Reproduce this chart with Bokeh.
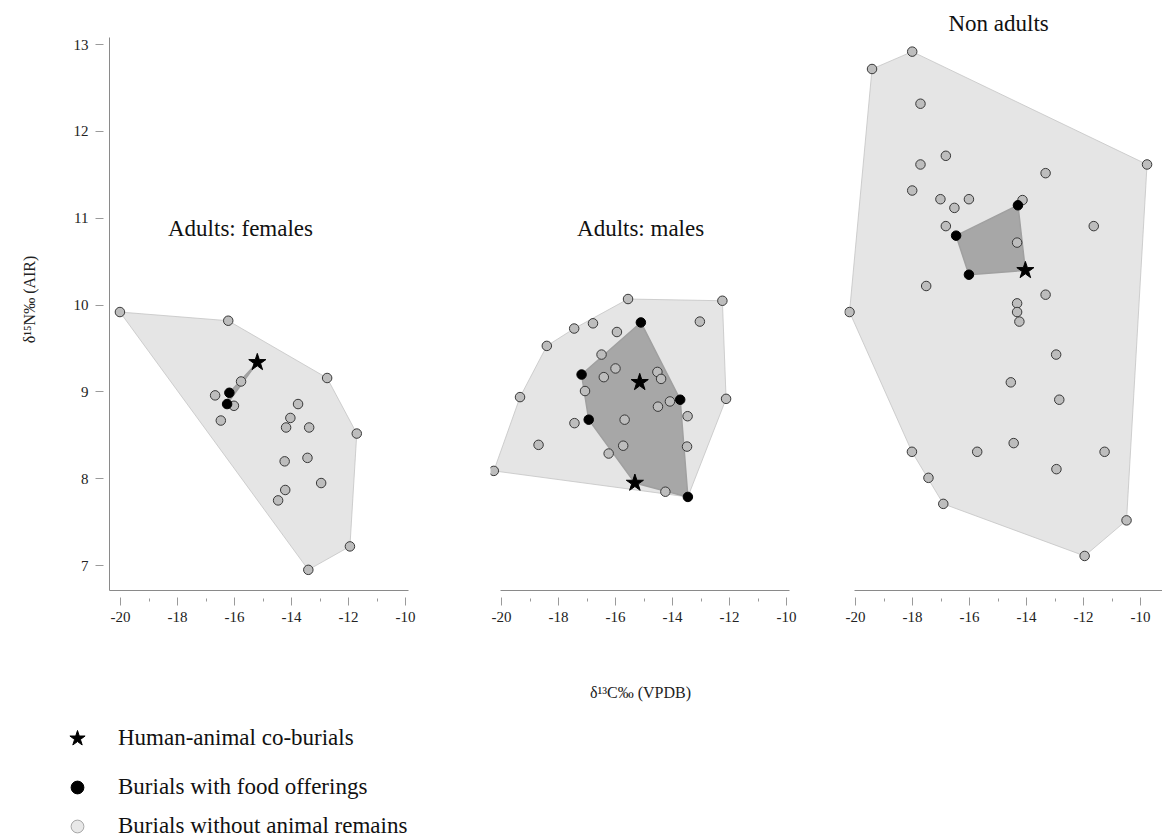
from bokeh.plotting import figure
from bokeh.layouts import row, column
from bokeh.models import (Range1d, SingleIntervalTicker, PrintfTickFormatter,
                          Label, Legend, LegendItem)
from bokeh.embed import file_html
from bokeh.resources import INLINE

# ---------------- data (δ13C, δ15N) ----------------
# Adults: females
fem_none_c = [-20.02, -16.22, -12.75, -15.77, -16.68, -16.02, -13.77, -16.48, -14.04, -14.19,
              -13.38, -11.71, -13.44, -14.24, -12.96, -14.22, -14.47, -11.95, -13.41]
fem_none_n = [9.92, 9.82, 9.16, 9.12, 8.96, 8.84, 8.86, 8.67, 8.70, 8.59,
              8.59, 8.52, 8.24, 8.20, 7.95, 7.87, 7.75, 7.22, 6.95]
fem_food_c = [-16.18, -16.26]
fem_food_n = [8.99, 8.86]
fem_co_c = [-15.20]
fem_co_n = [9.34]

# Adults: males
mal_none_c = [-15.56, -12.25, -13.04, -16.79, -17.45, -15.95, -18.41, -16.49, -16.00, -16.41,
              -14.53, -14.40, -17.07, -19.35, -14.09, -14.51, -12.12, -13.47, -15.68, -17.44,
              -18.70, -15.73, -13.49, -16.24, -20.27, -14.25]
mal_none_n = [10.07, 10.05, 9.81, 9.79, 9.73, 9.69, 9.53, 9.43, 9.27, 9.17,
              9.23, 9.15, 9.01, 8.94, 8.89, 8.83, 8.92, 8.72, 8.68, 8.64,
              8.39, 8.38, 8.37, 8.29, 8.09, 7.85]
mal_food_c = [-15.11, -17.19, -13.73, -16.94, -13.46]
mal_food_n = [9.80, 9.20, 8.91, 8.68, 7.79]
mal_co_c = [-15.15, -15.32]
mal_co_n = [9.11, 7.95]

# Non adults
juv_none_c = [-18.01, -19.42, -17.72, -9.77, -16.83, -17.72, -13.33, -18.01, -17.02, -16.02,
              -14.14, -16.53, -11.64, -16.83, -14.33, -17.52, -13.33, -14.33, -20.21, -14.33,
              -14.25, -12.96, -14.55, -12.85, -14.45, -18.02, -15.73, -11.26, -12.95, -17.44,
              -16.92, -10.49, -11.96]
juv_none_n = [12.92, 12.72, 12.32, 11.62, 11.72, 11.62, 11.52, 11.32, 11.22, 11.22,
              11.21, 11.12, 10.91, 10.91, 10.72, 10.22, 10.12, 10.02, 9.92, 9.92,
              9.81, 9.43, 9.11, 8.91, 8.41, 8.31, 8.31, 8.31, 8.11, 8.01,
              7.71, 7.52, 7.11]
juv_food_c = [-14.30, -16.47, -16.02]
juv_food_n = [11.15, 10.80, 10.35]
juv_co_c = [-14.04]
juv_co_n = [10.40]

panel_titles = ["Adults: females", "Adults: males", "Non adults"]
legend_labels = ["Human-animal co-burials", "Burials with food offerings",
                 "Burials without animal remains"]
x_label = "δ¹³C‰ (VPDB)"
y_label = "δ¹⁵N‰ (AIR)"

# ---------------- helpers ----------------
SERIF = "Liberation Serif"
PX = 28.5          # pixels per ‰ on the x axes
X0 = -20.386       # left edge of every panel's x range
H = 712            # height of the three panels


def convex_hull(xs, ys):
    pts = sorted(set(zip(xs, ys)))
    if len(pts) < 3:
        return [p[0] for p in pts], [p[1] for p in pts]

    def cross(o, a, b):
        return (a[0] - o[0]) * (b[1] - o[1]) - (a[1] - o[1]) * (b[0] - o[0])

    lower = []
    for p in pts:
        while len(lower) >= 2 and cross(lower[-2], lower[-1], p) <= 0:
            lower.pop()
        lower.append(p)
    upper = []
    for p in reversed(pts):
        while len(upper) >= 2 and cross(upper[-2], upper[-1], p) <= 0:
            upper.pop()
        upper.append(p)
    hull = lower[:-1] + upper[:-1]
    return [p[0] for p in hull], [p[1] for p in hull]


y_range = Range1d(6.712, 13.417)


def make_panel(frame_w, left, right, with_y, x_bounds, xlab, none_c, none_n,
               food_c, food_n, co_c, co_n, title, title_x, title_y):
    p = figure(width=left + frame_w + right, height=H,
               x_range=Range1d(X0, X0 + frame_w / PX), y_range=y_range,
               output_backend="svg", toolbar_location=None,
               y_axis_location="left" if with_y else None,
               min_border_left=left, min_border_right=right,
               min_border_top=8, min_border_bottom=H - 590)
    p.outline_line_color = None
    p.background_fill_color = "white"
    p.border_fill_color = "white"
    p.xgrid.visible = False
    p.ygrid.visible = False

    ax = p.xaxis[0]
    ax.ticker = SingleIntervalTicker(interval=2, num_minor_ticks=2)
    ax.formatter = PrintfTickFormatter(format="%d")
    ax.bounds = x_bounds
    ax.axis_line_color = "#8a8a8a"
    ax.major_tick_line_color = "#9a9a9a"
    ax.minor_tick_line_color = "#9a9a9a"
    ax.major_tick_in = -7
    ax.major_tick_out = 15
    ax.minor_tick_in = -8
    ax.minor_tick_out = 11
    ax.major_label_standoff = 6
    ax.major_label_text_font = SERIF
    ax.major_label_text_font_size = "15px"
    ax.major_label_text_color = "#222222"
    if xlab:
        ax.axis_label = xlab
        ax.axis_label_text_font = SERIF
        ax.axis_label_text_font_size = "16px"
        ax.axis_label_text_font_style = "normal"
        ax.axis_label_text_color = "#222222"
        ax.axis_label_standoff = 59

    if with_y:
        ay = p.yaxis[0]
        ay.ticker = SingleIntervalTicker(interval=1, num_minor_ticks=0)
        ay.formatter = PrintfTickFormatter(format="%d")
        ay.bounds = (6.712, 13.08)
        ay.axis_line_color = "#8a8a8a"
        ay.major_tick_line_color = "#9a9a9a"
        ay.major_tick_in = -6
        ay.major_tick_out = 14
        ay.major_label_standoff = 7
        ay.major_label_text_font = SERIF
        ay.major_label_text_font_size = "15px"
        ay.major_label_text_color = "#222222"
        ay.axis_label = y_label
        ay.axis_label_text_font = SERIF
        ay.axis_label_text_font_size = "16px"
        ay.axis_label_text_font_style = "normal"
        ay.axis_label_text_color = "#222222"
        ay.axis_label_standoff = 33

    all_c = none_c + food_c + co_c
    all_n = none_n + food_n + co_n
    hx, hy = convex_hull(all_c, all_n)
    p.patch(hx, hy, fill_color="#e5e5e5", line_color="#c4c4c4", line_width=0.8)
    ix, iy = convex_hull(food_c + co_c, food_n + co_n)
    p.patch(ix, iy, fill_color="#a7a7a7", line_color="#a0a0a0", line_width=1.5)

    p.scatter(none_c, none_n, marker="circle", size=9.5, fill_color="#bdbdbd",
              line_color="#383838", line_width=1)
    p.scatter(food_c, food_n, marker="circle", size=9.5, fill_color="black",
              line_color="black", line_width=1)
    p.scatter(co_c, co_n, marker="star", size=18, fill_color="black",
              line_color="black", line_width=1)

    p.add_layout(Label(x=title_x, y=title_y, text=title, text_align="center",
                       text_baseline="middle", text_font=SERIF,
                       text_font_size="23px", text_color="#111111"))
    return p


p1 = make_panel(300, 109, 40, True, (X0, -9.9), None,
                fem_none_c, fem_none_n, fem_food_c, fem_food_n, fem_co_c, fem_co_n,
                panel_titles[0], -15.79, 10.88)
p2 = make_panel(300, 41, 14, False, (-20.02, -9.9), x_label,
                mal_none_c, mal_none_n, mal_food_c, mal_food_n, mal_co_c, mal_co_n,
                panel_titles[1], -15.12, 10.88)
p3 = make_panel(318, 40, 0, False, (-20.02, X0 + 318 / PX), None,
                juv_none_c, juv_none_n, juv_food_c, juv_food_n, juv_co_c, juv_co_n,
                panel_titles[2], -14.98, 13.24)

# ---------------- legend strip below the panels ----------------
# Its frame shows an empty window (0..1), so the category renderers it keys on
# (all δ13C/δ15N values, which lie far outside it) draw only their legend glyphs.
p_leg = figure(width=460, height=840 - H, x_range=Range1d(0, 1), y_range=Range1d(0, 1),
               output_backend="svg", toolbar_location=None,
               x_axis_location=None, y_axis_location=None,
               min_border_left=0, min_border_right=0, min_border_top=0, min_border_bottom=0)
p_leg.outline_line_color = None
p_leg.xgrid.visible = False
p_leg.ygrid.visible = False

all_co_c = fem_co_c + mal_co_c + juv_co_c
all_co_n = fem_co_n + mal_co_n + juv_co_n
all_food_c = fem_food_c + mal_food_c + juv_food_c
all_food_n = fem_food_n + mal_food_n + juv_food_n
all_none_c = fem_none_c + mal_none_c + juv_none_c
all_none_n = fem_none_n + mal_none_n + juv_none_n

sw_co = p_leg.scatter(all_co_c, all_co_n, marker="star",
                      fill_color="black", line_color="black", line_width=1)
sw_food = p_leg.scatter(all_food_c, all_food_n, marker="circle",
                        fill_color="black", line_color="black", line_width=1)
sw_none = p_leg.scatter(all_none_c, all_none_n, marker="circle",
                        fill_color="#e8e8e8", line_color="#a8a8a8", line_width=1)

for label, rend, gh, loc in [(legend_labels[0], sw_co, 48, (57, 78)),
                             (legend_labels[1], sw_food, 32, (57, 37)),
                             (legend_labels[2], sw_none, 32, (57, -2))]:
    p_leg.add_layout(Legend(items=[LegendItem(label=label, renderers=[rend])],
                            location=loc, orientation="vertical",
                            glyph_width=40, glyph_height=gh, label_height=gh,
                            padding=0, margin=0, spacing=0, label_standoff=21,
                            label_text_font=SERIF, label_text_font_size="23px",
                            label_text_color="#111111",
                            border_line_color=None, background_fill_alpha=0))

layout = column(row(p1, p2, p3), p_leg)
open("out.html", "w").write(file_html(layout, INLINE))
